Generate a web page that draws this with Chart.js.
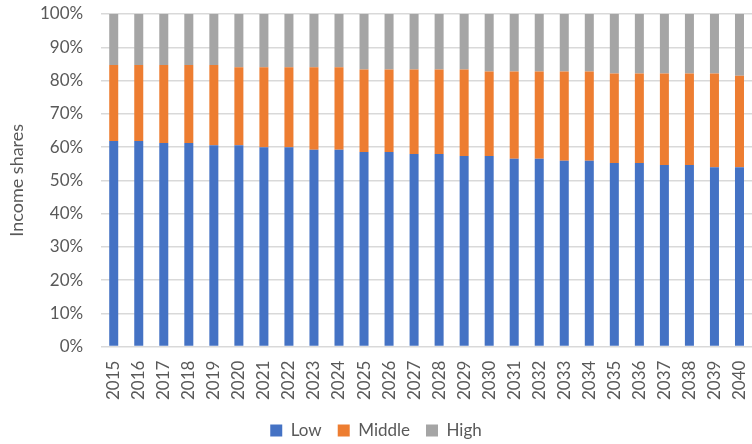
<!DOCTYPE html>
<html><head><meta charset="utf-8">
<script src="https://cdn.jsdelivr.net/npm/chart.js@4/dist/chart.umd.min.js"></script>
<style>html,body{margin:0;padding:0;background:#fff}#wrap{width:752px;height:444px}</style>
</head><body><div id="wrap"><canvas id="c" width="752" height="444"></canvas></div>
<script>
const years = ["2015","2016","2017","2018","2019","2020","2021","2022","2023","2024","2025","2026","2027","2028","2029","2030","2031","2032","2033","2034","2035","2036","2037","2038","2039","2040"];
const low = [61.8,61.8,61.2,61.2,60.5,60.5,59.9,59.9,59.2,59.2,58.5,58.5,57.9,57.9,57.3,57.3,56.5,56.5,55.9,55.9,55.2,55.2,54.6,54.6,53.9,53.9];
const middle = [22.9,22.9,23.5,23.5,24.2,23.5,24.1,24.1,24.8,24.8,24.8,24.8,25.4,25.4,26.0,25.4,26.2,26.2,26.8,26.8,26.9,26.9,27.5,27.5,28.2,27.5];
const high = [15.3,15.3,15.3,15.3,15.3,16.0,16.0,16.0,16.0,16.0,16.7,16.7,16.7,16.7,16.7,17.3,17.3,17.3,17.3,17.3,17.9,17.9,17.9,17.9,17.9,18.6];
const yTicks = [0,10,20,30,40,50,60,70,80,90,100];

const FONT = "Lato, 'Open Sans', sans-serif";
new Chart(document.getElementById('c'), {
  type: 'bar',
  data: {
    labels: years,
    datasets: [
      {label:'Low', data: low, backgroundColor:'#4472C4'},
      {label:'Middle', data: middle, backgroundColor:'#ED7D31'},
      {label:'High', data: high, backgroundColor:'#A5A5A5'}
    ]
  },
  options: {
    responsive:false, animation:false,
    layout:{padding:{left:0,right:0,top:14,bottom:-5}},
    datasets:{bar:{barPercentage:0.6, categoryPercentage:0.6}},
    scales:{
      x:{stacked:true,
        afterFit: s => { s.paddingLeft = 0; s.paddingRight = 0; },
        grid:{display:false},
        border:{color:'#d9d9d9'},
        ticks:{color:'#595959', font:{family:FONT,size:17}, minRotation:90, maxRotation:90, autoSkip:false, padding:6}
      },
      y:{stacked:true, min:0, max:100,
        afterBuildTicks: s => { s.ticks = yTicks.map(v=>({value:v})); },
        afterFit: s => { s.paddingTop = 0; s.paddingBottom = 0; },
        grid:{color:'#d9d9d9', lineWidth:1.5, drawTicks:false},
        border:{display:false},
        ticks:{color:'#595959', font:{family:FONT,size:17}, padding:18, callback:v=>v+'%'},
        title:{display:true, text:'Income shares', color:'#595959', font:{family:FONT,size:18,lineHeight:1}, padding:{top:8,bottom:-4}}
      }
    },
    plugins:{
      legend:{position:'bottom', labels:{color:'#595959', font:{family:FONT,size:17}, boxWidth:12, boxHeight:12, padding:16}},
      tooltip:{enabled:false}
    }
  }
});
</script></body></html>
